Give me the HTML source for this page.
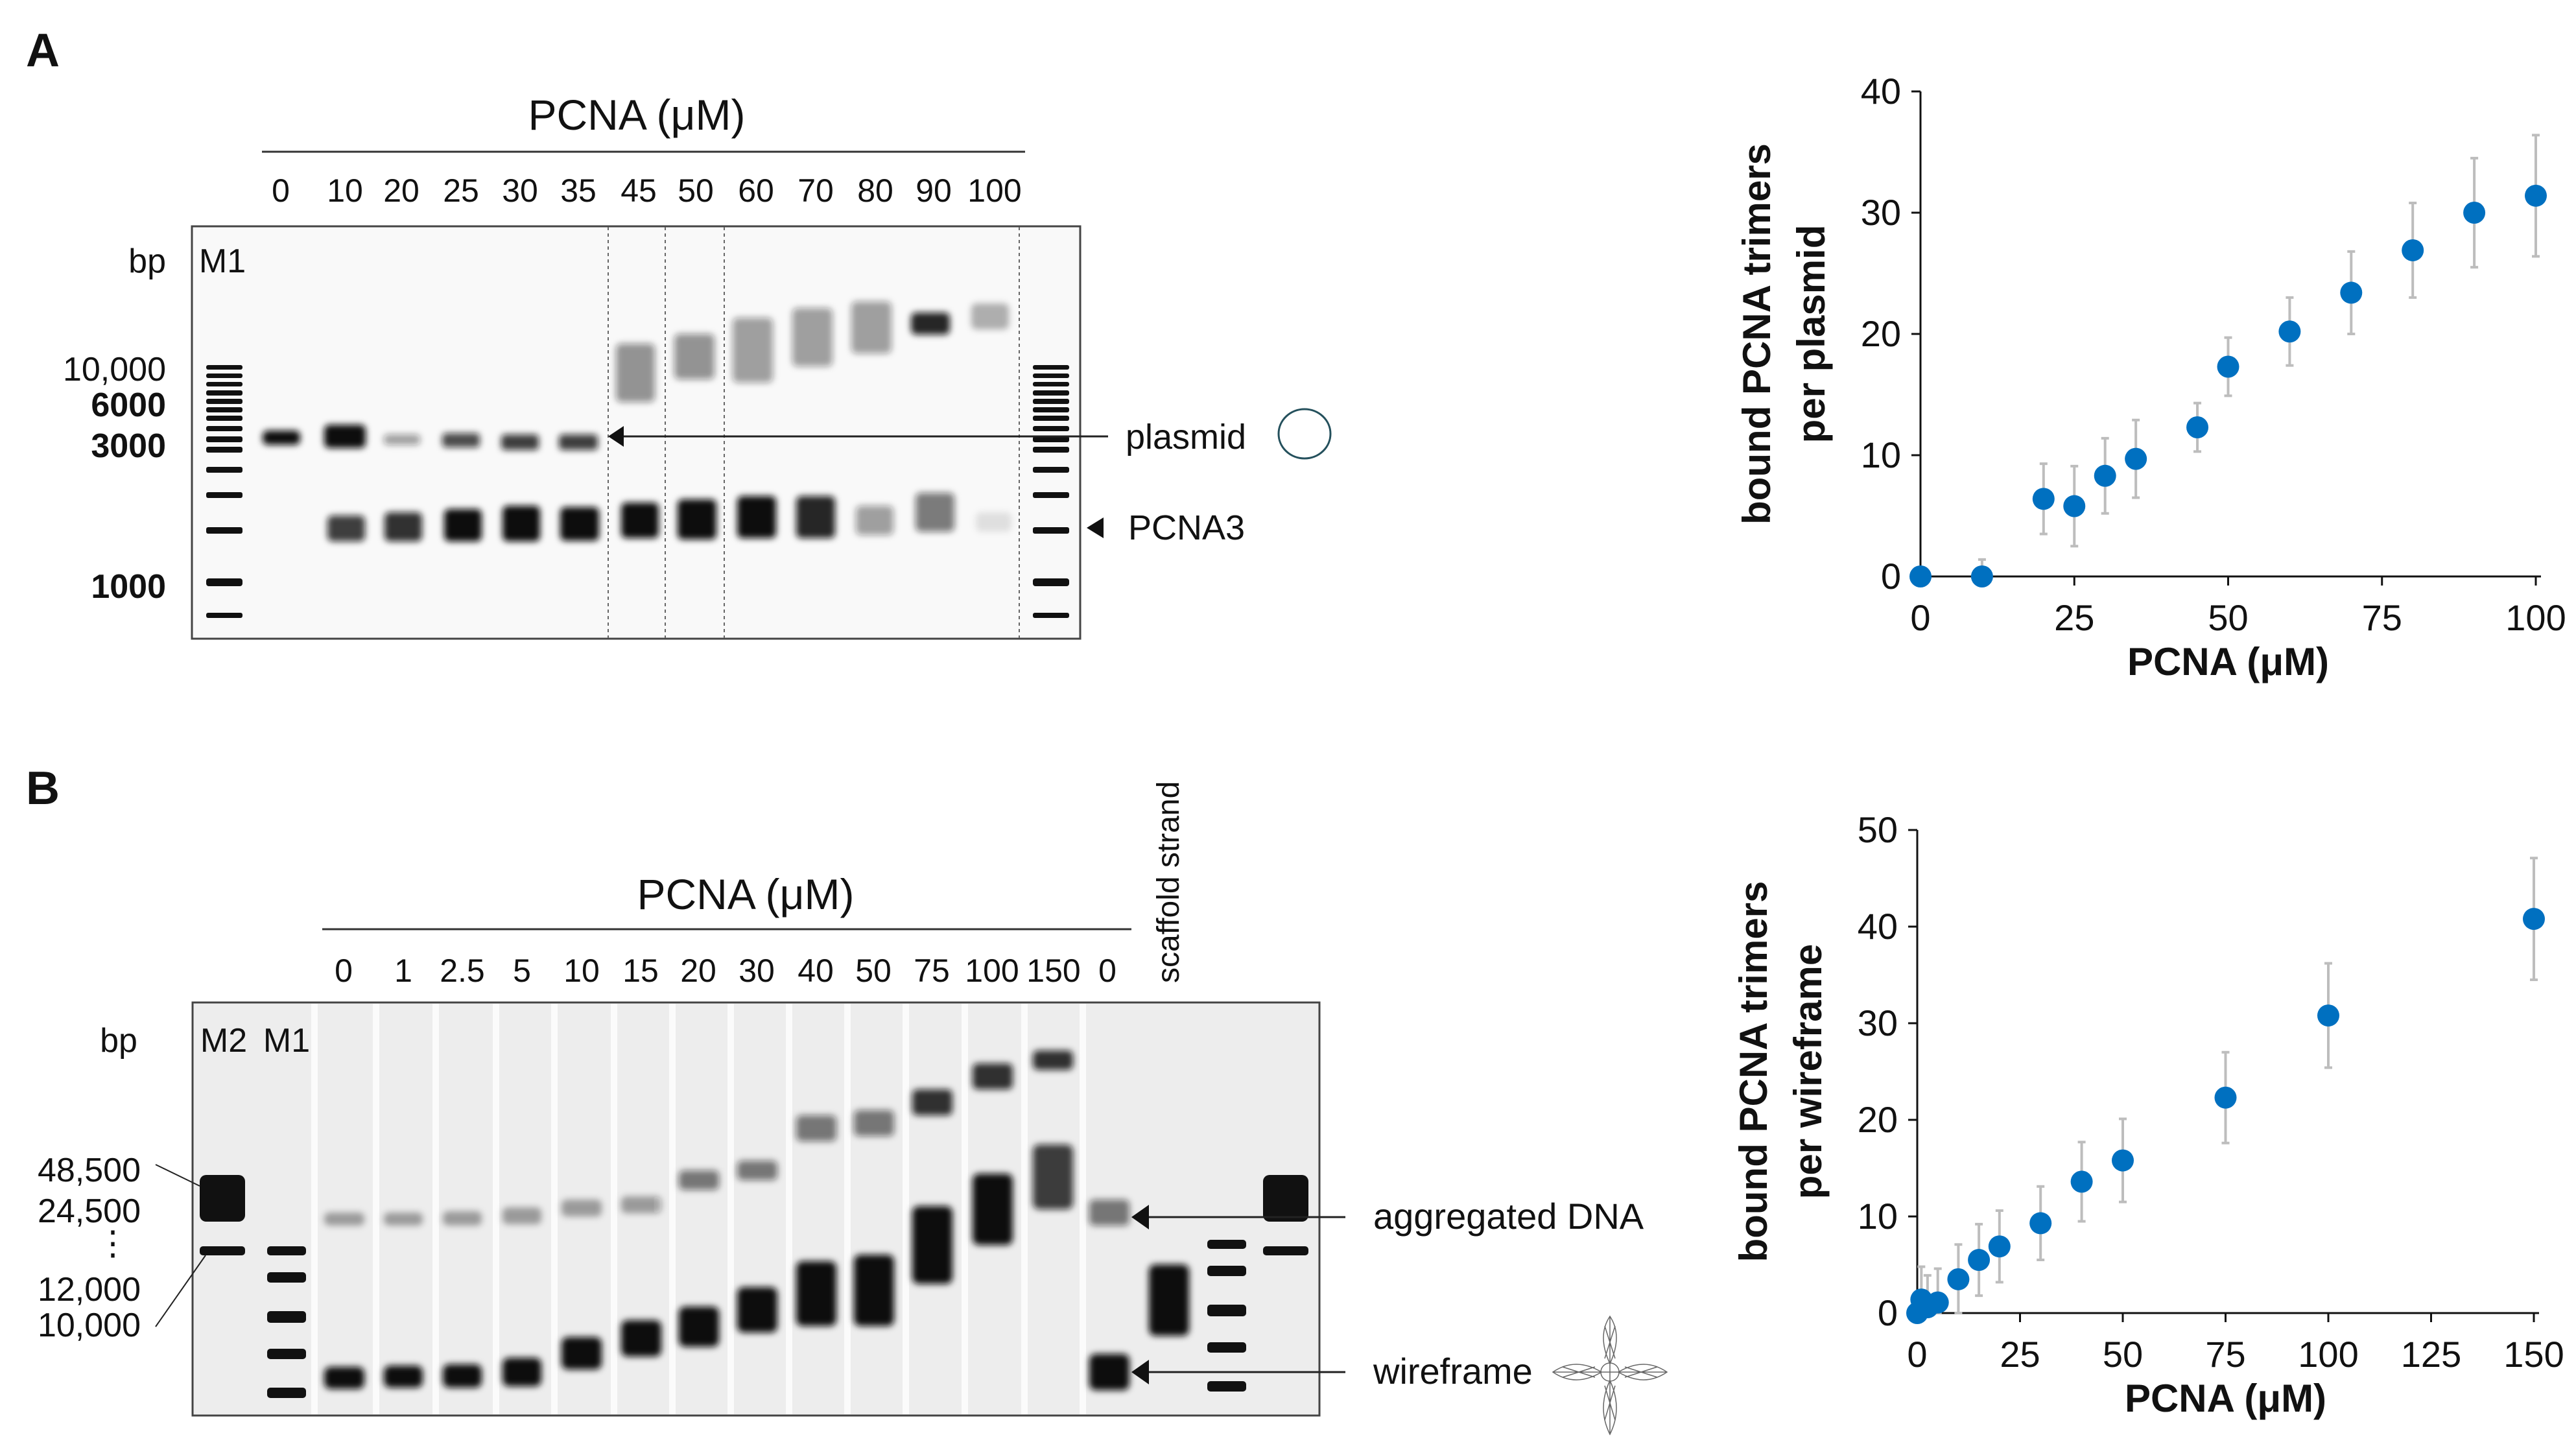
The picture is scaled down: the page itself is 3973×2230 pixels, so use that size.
<!DOCTYPE html>
<html><head><meta charset="utf-8"><style>
html,body{margin:0;padding:0;background:#fff}
svg{display:block}
text{font-family:"Liberation Sans Narrow","Liberation Sans",sans-serif;fill:#111}
.b{font-family:"Liberation Sans",sans-serif;font-weight:bold}
.bn{font-family:"Liberation Sans Narrow","Liberation Sans",sans-serif;font-weight:bold}
</style></head><body>
<svg id="root" width="3973" height="2230" viewBox="0 0 3973 2230" xmlns="http://www.w3.org/2000/svg">
<defs>
<filter id="bl" x="-50%" y="-50%" width="200%" height="200%"><feGaussianBlur stdDeviation="5"/></filter>
</defs>

<g>
<text x="40" y="102" class="b" font-size="72">A</text>
<text x="982" y="200" font-size="66" text-anchor="middle">PCNA (μM)</text>
<line x1="404" y1="234" x2="1581" y2="234" stroke="#333" stroke-width="3"/>
<g font-size="50" text-anchor="middle">
<text x="433" y="311">0</text><text x="532" y="311">10</text><text x="619" y="311">20</text><text x="711" y="311">25</text><text x="802" y="311">30</text><text x="892" y="311">35</text><text x="985" y="311">45</text><text x="1073" y="311">50</text><text x="1166" y="311">60</text><text x="1258" y="311">70</text><text x="1350" y="311">80</text><text x="1440" y="311">90</text><text x="1534" y="311">100</text>
</g>
<rect x="296" y="349" width="1370" height="636" fill="#f9f9f9" stroke="#444" stroke-width="3"/>
<g stroke="#666" stroke-width="2" stroke-dasharray="5,5">
<line x1="938" y1="350" x2="938" y2="984"/><line x1="1026" y1="350" x2="1026" y2="984"/><line x1="1117" y1="350" x2="1117" y2="984"/><line x1="1572" y1="350" x2="1572" y2="984"/>
</g>
<g font-size="52" text-anchor="end">
<text x="256" y="420">bp</text>
<text x="256" y="587">10,000</text>
<text x="256" y="642" class="bn" font-size="52">6000</text>
<text x="256" y="705" class="bn" font-size="52">3000</text>
<text x="256" y="922" class="bn" font-size="52">1000</text>
</g>
<text x="343" y="420" font-size="52" text-anchor="middle">M1</text>
<g fill="#111">
<g id="ladA">
<rect x="318" y="563" width="56" height="7" rx="3"/><rect x="318" y="576" width="56" height="7" rx="3"/><rect x="318" y="589" width="56" height="7" rx="3"/><rect x="318" y="602" width="56" height="8" rx="3"/><rect x="318" y="615" width="56" height="8" rx="3"/><rect x="318" y="628" width="56" height="8" rx="3"/><rect x="318" y="641" width="56" height="8" rx="3"/><rect x="318" y="657" width="56" height="8" rx="3"/><rect x="318" y="673" width="56" height="9" rx="3"/><rect x="318" y="689" width="56" height="9" rx="3"/><rect x="318" y="720" width="56" height="9" rx="3"/><rect x="318" y="759" width="56" height="9" rx="3"/><rect x="318" y="813" width="56" height="10" rx="3"/><rect x="318" y="892" width="56" height="12" rx="4"/><rect x="318" y="945" width="56" height="8" rx="3"/>
</g>
<use href="#ladA" transform="translate(1275,0)"/>
</g>
<g fill="#111" filter="url(#bl)">
<rect x="405" y="664" width="58" height="22" rx="8"/>
<rect x="500" y="655" width="64" height="36" rx="8"/>
<rect x="592" y="670" width="56" height="16" rx="6" opacity=".4"/>
<rect x="682" y="668" width="58" height="22" rx="6" opacity=".75"/>
<rect x="773" y="670" width="58" height="24" rx="6" opacity=".8"/>
<rect x="862" y="670" width="60" height="24" rx="6" opacity=".8"/>
<rect x="505" y="795" width="58" height="40" rx="8" opacity=".8"/>
<rect x="593" y="790" width="58" height="45" rx="8" opacity=".85"/>
<rect x="685" y="785" width="58" height="50" rx="8"/>
<rect x="775" y="780" width="58" height="55" rx="8"/>
<rect x="864" y="782" width="60" height="52" rx="8"/>
<rect x="958" y="775" width="58" height="55" rx="8"/>
<rect x="1045" y="770" width="60" height="62" rx="8"/>
<rect x="1137" y="765" width="60" height="65" rx="8"/>
<rect x="1228" y="765" width="60" height="65" rx="8" opacity=".9"/>
<rect x="1320" y="780" width="58" height="45" rx="8" opacity=".4"/>
<rect x="1412" y="760" width="60" height="60" rx="8" opacity=".55"/>
<rect x="1505" y="790" width="55" height="30" rx="8" opacity=".1"/>
<rect x="950" y="530" width="60" height="90" rx="8" opacity=".45"/>
<rect x="1040" y="515" width="62" height="70" rx="8" opacity=".45"/>
<rect x="1130" y="490" width="62" height="100" rx="8" opacity=".4"/>
<rect x="1222" y="475" width="62" height="90" rx="8" opacity=".4"/>
<rect x="1313" y="465" width="62" height="80" rx="8" opacity=".4"/>
<rect x="1405" y="482" width="60" height="34" rx="8" opacity=".9"/>
<rect x="1498" y="468" width="58" height="40" rx="8" opacity=".3"/>
</g>
<line x1="960" y1="673" x2="1709" y2="673" stroke="#222" stroke-width="3"/>
<polygon points="938,673 962,657 962,689" fill="#111"/>
<text x="1736" y="692" font-size="54">plasmid</text>
<ellipse cx="2012" cy="669" rx="40" ry="38" fill="none" stroke="#24505c" stroke-width="3"/>
<polygon points="1676,814 1702,798 1702,830" fill="#111"/>
<text x="1740" y="832" font-size="54">PCNA3</text>
</g>

<g>
<text x="40" y="1240" class="b" font-size="72">B</text>
<text x="1150" y="1402" font-size="66" text-anchor="middle">PCNA (μM)</text>
<line x1="497" y1="1433" x2="1745" y2="1433" stroke="#333" stroke-width="3"/>
<g font-size="50" text-anchor="middle">
<text x="530" y="1514">0</text><text x="622" y="1514">1</text><text x="713" y="1514">2.5</text><text x="805" y="1514">5</text><text x="897" y="1514">10</text><text x="988" y="1514">15</text><text x="1077" y="1514">20</text><text x="1167" y="1514">30</text><text x="1258" y="1514">40</text><text x="1347" y="1514">50</text><text x="1437" y="1514">75</text><text x="1530" y="1514">100</text><text x="1625" y="1514">150</text><text x="1708" y="1514">0</text>
</g>
<text transform="translate(1818,1516) rotate(-90)" font-size="48" font-family="Liberation Sans,sans-serif">scaffold strand</text>
<rect x="297" y="1546" width="1738" height="637" fill="#ededed" stroke="#444" stroke-width="3"/>
<g fill="#fbfbfb">
<rect x="480" y="1548" width="10" height="633"/><rect x="575" y="1548" width="10" height="633"/><rect x="667" y="1548" width="10" height="633"/><rect x="760" y="1548" width="10" height="633"/><rect x="850" y="1548" width="10" height="633"/><rect x="942" y="1548" width="10" height="633"/><rect x="1032" y="1548" width="10" height="633"/><rect x="1122" y="1548" width="10" height="633"/><rect x="1212" y="1548" width="10" height="633"/><rect x="1302" y="1548" width="10" height="633"/><rect x="1392" y="1548" width="10" height="633"/><rect x="1483" y="1548" width="10" height="633"/><rect x="1575" y="1548" width="10" height="633"/><rect x="1665" y="1548" width="10" height="633"/>
</g>
<g font-size="52">
<text x="183" y="1622" text-anchor="middle">bp</text>
<text x="345" y="1622" text-anchor="middle">M2</text>
<text x="442" y="1622" text-anchor="middle">M1</text>
<g text-anchor="end">
<text x="217" y="1822">48,500</text><text x="217" y="1885">24,500</text><text x="200" y="1935">⋮</text><text x="217" y="2006">12,000</text><text x="217" y="2061">10,000</text>
</g>
</g>
<g stroke="#222" stroke-width="2">
<line x1="240" y1="1796" x2="308" y2="1829"/><line x1="240" y1="2046" x2="317" y2="1936"/>
</g>
<g fill="#111">
<rect x="308" y="1812" width="70" height="72" rx="10"/><rect x="308" y="1922" width="70" height="14" rx="5"/>
<rect x="1948" y="1812" width="70" height="72" rx="10"/><rect x="1948" y="1922" width="70" height="14" rx="5"/>
<g id="ladB"><rect x="412" y="1922" width="60" height="14" rx="5"/><rect x="412" y="1962" width="60" height="16" rx="5"/><rect x="412" y="2022" width="60" height="18" rx="5"/><rect x="412" y="2080" width="60" height="16" rx="5"/><rect x="412" y="2140" width="60" height="16" rx="5"/></g>
<use href="#ladB" transform="translate(1450,-10)"/>
</g>
<g fill="#111" filter="url(#bl)">
<rect x="500" y="2108" width="62" height="34" rx="10"/><rect x="592" y="2106" width="60" height="34" rx="10"/><rect x="683" y="2104" width="60" height="36" rx="10"/><rect x="775" y="2094" width="60" height="44" rx="10"/><rect x="866" y="2062" width="62" height="50" rx="10"/><rect x="958" y="2036" width="62" height="56" rx="10"/><rect x="1047" y="2015" width="62" height="62" rx="10"/><rect x="1137" y="1985" width="62" height="70" rx="10"/><rect x="1228" y="1945" width="62" height="100" rx="10"/><rect x="1317" y="1935" width="62" height="110" rx="10"/><rect x="1407" y="1860" width="62" height="120" rx="10"/><rect x="1500" y="1810" width="62" height="110" rx="10"/><rect x="1593" y="1765" width="62" height="100" rx="10" opacity=".8"/><rect x="1680" y="2088" width="62" height="56" rx="10"/>
<rect x="1772" y="1950" width="62" height="110" rx="10"/>
<g opacity=".35"><rect x="500" y="1870" width="62" height="20" rx="8"/><rect x="592" y="1870" width="60" height="20" rx="8"/><rect x="683" y="1868" width="60" height="22" rx="8"/><rect x="775" y="1862" width="60" height="26" rx="8"/><rect x="866" y="1850" width="62" height="26" rx="8"/><rect x="958" y="1845" width="62" height="26" rx="8"/></g>
<g opacity=".55"><rect x="1047" y="1805" width="62" height="30" rx="8"/><rect x="1137" y="1790" width="62" height="30" rx="8"/><rect x="1228" y="1720" width="62" height="40" rx="8"/><rect x="1317" y="1712" width="62" height="40" rx="8"/><rect x="1680" y="1850" width="62" height="40" rx="8"/></g>
<rect x="1407" y="1680" width="62" height="40" rx="8" opacity=".85"/><rect x="1500" y="1640" width="62" height="40" rx="8" opacity=".85"/><rect x="1593" y="1620" width="62" height="30" rx="8" opacity=".85"/>
</g>
<line x1="1770" y1="1877" x2="2075" y2="1877" stroke="#222" stroke-width="3"/>
<polygon points="1745,1877 1772,1858 1772,1896" fill="#111"/>
<text x="2118" y="1895" font-size="56">aggregated DNA</text>
<line x1="1770" y1="2116" x2="2075" y2="2116" stroke="#222" stroke-width="3"/>
<polygon points="1745,2116 1772,2097 1772,2135" fill="#111"/>
<text x="2118" y="2134" font-size="56">wireframe</text>
<g fill="none" stroke="#666" stroke-width="1.5">
<path d="M2470,2116 Q2430,2092 2395,2116 Q2430,2140 2470,2116 Z M2496,2116 Q2536,2092 2571,2116 Q2536,2140 2496,2116 Z M2483,2103 Q2463,2060 2483,2030 Q2503,2060 2483,2103 Z M2483,2129 Q2463,2172 2483,2212 Q2503,2172 2483,2129 Z"/>
<circle cx="2483" cy="2116" r="14"/>
<path d="M2395,2116 L2571,2116 M2483,2030 L2483,2212 M2410,2108 L2460,2124 M2410,2124 L2460,2108 M2506,2108 L2556,2124 M2506,2124 L2556,2108 M2475,2045 L2491,2095 M2491,2045 L2475,2095 M2475,2137 L2491,2190 M2491,2137 L2475,2190"/>
</g>
</g>

<g id="chartA"></g>
<g id="chartB"></g>
</svg>
<script>
const aConc = [0,10,20,25,30,35,45,50,60,70,80,90,100];
const aVals = [0,0,6.4,5.8,8.3,9.7,12.3,17.3,20.2,23.4,26.9,30.0,31.4];
const aErr  = [0,1.4,2.9,3.3,3.1,3.2,2.0,2.4,2.8,3.4,3.9,4.5,5.0];
const aXTicks = [0,25,50,75,100];
const aYTicks = [0,10,20,30,40];
const bConc = [0,1,2.5,5,10,15,20,30,40,50,75,100,150];
const bVals = [0,1.4,0.6,1.1,3.5,5.5,6.9,9.3,13.6,15.8,22.3,30.8,40.8];
const bErr  = [0,3.4,3.3,3.5,3.6,3.7,3.7,3.8,4.1,4.3,4.7,5.4,6.3];
const bXTicks = [0,25,50,75,100,125,150];
const bYTicks = [0,10,20,30,40,50];
const NS='http://www.w3.org/2000/svg';
function mk(p,tag,at){const e=document.createElementNS(NS,tag);for(const k in at)e.setAttribute(k,at[k]);p.appendChild(e);return e;}
function chart(g,cfg){
  const sx=v=>cfg.x0+(v-cfg.xmin)/(cfg.xmax-cfg.xmin)*(cfg.x1-cfg.x0);
  const sy=v=>cfg.y0-(v-cfg.ymin)/(cfg.ymax-cfg.ymin)*(cfg.y0-cfg.y1);
  const ya=mk(g,'line',{x1:cfg.x0,y1:cfg.y0,x2:cfg.x0,y2:sy(cfg.ymax),stroke:'#111','stroke-width':3});
  
  
  const xa=mk(g,'line',{x1:cfg.x0,y1:cfg.y0,x2:sx(cfg.xmax)+8,y2:cfg.y0,stroke:'#111','stroke-width':3});
  
  
  cfg.yt.forEach(v=>{
    const t=mk(g,'line',{x1:cfg.x0-14,y1:sy(v),x2:cfg.x0,y2:sy(v),stroke:'#111','stroke-width':3});
    
    
    const l=mk(g,'text',{x:cfg.x0-30,y:sy(v)+19,'font-size':56,'text-anchor':'end'});l.textContent=v;
    
    
  });
  cfg.xt.forEach(v=>{
    const t=mk(g,'line',{x1:sx(v),y1:cfg.y0,x2:sx(v),y2:cfg.y0+14,stroke:'#111','stroke-width':3});
    
    
    const l=mk(g,'text',{x:sx(v),y:cfg.y0+83,'font-size':56,'text-anchor':'middle'});l.textContent=v;
    
    
  });
  cfg.xs.forEach((xv,i)=>{
    const cx=sx(xv),e=cfg.es[i],v=cfg.ys[i];
    if(e>0){
      const eb=mk(g,'path',{d:`M${cx},${sy(v+e)}V${sy(Math.max(0,v-e))}M${cx-6},${sy(v+e)}H${cx+6}M${cx-6},${sy(Math.max(0,v-e))}H${cx+6}`,stroke:'#bdbdbd','stroke-width':4,fill:'none'});
      
      
    }
  });
  cfg.xs.forEach((xv,i)=>{
    const c=mk(g,'circle',{cx:sx(xv),cy:sy(cfg.ys[i]),r:17,fill:'#0070c0'});
    
    
  });
  const xt=mk(g,'text',{x:(cfg.x0+cfg.x1)/2,y:cfg.y0+152,'font-size':60,'text-anchor':'middle',class:'b'});xt.textContent='PCNA (μM)';
  
  
  const cy=(cfg.y0+sy(cfg.ymax))/2;
  const t1=mk(g,'text',{transform:`translate(${cfg.x0-232},${cy}) rotate(-90)`,'font-size':60,'text-anchor':'middle',class:'b'});t1.textContent='bound PCNA trimers';
  
  
  const t2=mk(g,'text',{transform:`translate(${cfg.x0-148},${cy}) rotate(-90)`,'font-size':60,'text-anchor':'middle',class:'b'});t2.textContent=cfg.ylab2;
  
  
}
chart(document.getElementById('chartA'),{x0:2962,x1:3911,y0:889,y1:141,xmin:0,xmax:100,ymin:0,ymax:40,xs:aConc,ys:aVals,es:aErr,xt:aXTicks,yt:aYTicks,ylab2:'per plasmid'});
chart(document.getElementById('chartB'),{x0:2957,x1:3908,y0:2025,y1:1280,xmin:0,xmax:150,ymin:0,ymax:50,xs:bConc,ys:bVals,es:bErr,xt:bXTicks,yt:bYTicks,ylab2:'per wireframe'});
</script>
</body></html>
